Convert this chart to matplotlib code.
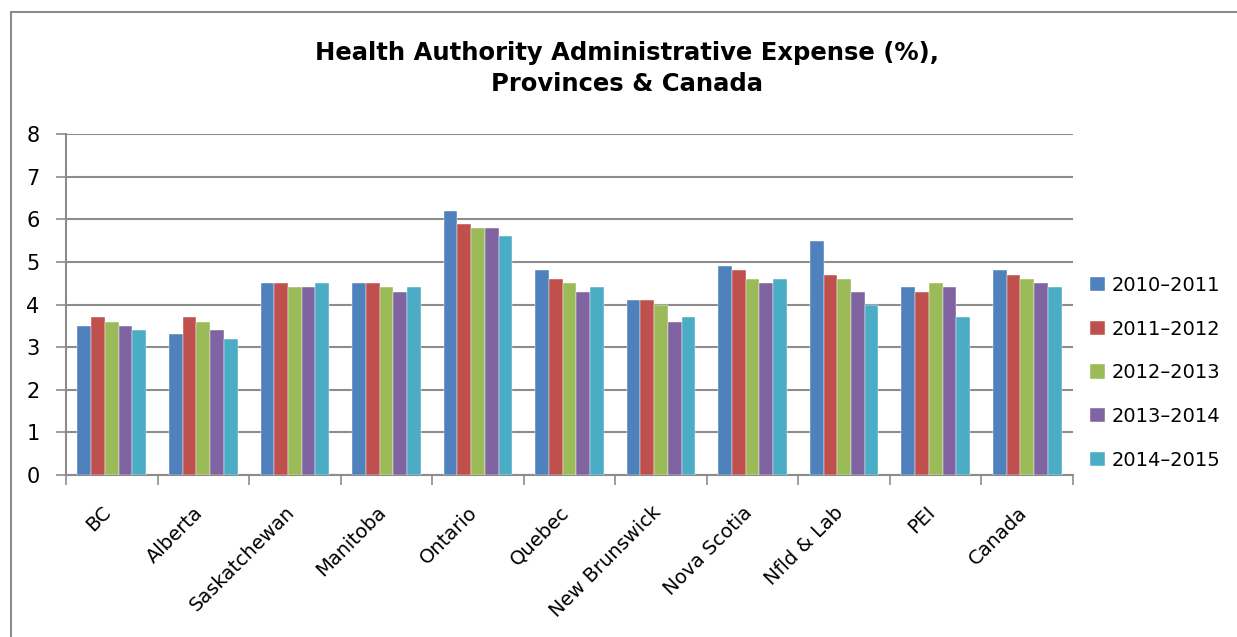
import matplotlib.pyplot as plt
import matplotlib.transforms as mtransforms
import numpy as np
from matplotlib.patches import Rectangle

provinces = ["BC", "Alberta", "Saskatchewan", "Manitoba", "Ontario", "Quebec",
             "New Brunswick", "Nova Scotia", "Nfld & Lab", "PEI", "Canada"]
years = ["2010\u20132011", "2011\u20132012", "2012\u20132013", "2013\u20132014", "2014\u20132015"]
y2010 = [3.5, 3.3, 4.5, 4.5, 6.2, 4.8, 4.1, 4.9, 5.5, 4.4, 4.8]
y2011 = [3.7, 3.7, 4.5, 4.5, 5.9, 4.6, 4.1, 4.8, 4.7, 4.3, 4.7]
y2012 = [3.6, 3.6, 4.4, 4.4, 5.8, 4.5, 4.0, 4.6, 4.6, 4.5, 4.6]
y2013 = [3.5, 3.4, 4.4, 4.3, 5.8, 4.3, 3.6, 4.5, 4.3, 4.4, 4.5]
y2014 = [3.4, 3.2, 4.5, 4.4, 5.6, 4.4, 3.7, 4.6, 4.0, 3.7, 4.4]
series = [y2010, y2011, y2012, y2013, y2014]
colors = ["#4F81BD", "#C0504D", "#9BBB59", "#8064A2", "#4BACC6"]

plt.rcParams['font.family'] = ['DejaVu Sans']
fig = plt.figure(figsize=(12.37, 6.37), dpi=100)
# chart frame (right and bottom edges fall outside the picture)
fig.patches.append(Rectangle((11 / 1237, -0.05), 1.1, 0.981 + 0.05, transform=fig.transFigure,
                             fill=False, edgecolor="#8c8c8c", linewidth=1.5))
ax = fig.add_axes([0.0534, 0.2543, 0.814, 0.5353])

x = np.arange(len(provinces))
w = 0.15
for i, (vals, c, lab) in enumerate(zip(series, colors, years)):
    ax.bar(x + (i - 2) * w, vals, width=w, color=c, label=lab, zorder=3,
           edgecolor="white", linewidth=0.3)

ax.set_xlim(-0.5, len(provinces) - 0.5)
ax.set_ylim(0, 8)
ax.set_yticks(range(0, 9))
ax.yaxis.grid(True, color="#8c8c8c", linewidth=1.5, zorder=0)
ax.tick_params(axis='y', length=7, width=1.2, color="#8c8c8c", labelsize=15, pad=12)
ax.set_xticks(x)
ax.set_xticklabels(provinces, rotation=45, ha='right', rotation_mode='anchor', fontsize=14)
ax.tick_params(axis='x', length=0, pad=20)
offset = mtransforms.ScaledTranslation(-10 / 100, 0, fig.dpi_scale_trans)
for lbl in ax.get_xticklabels():
    lbl.set_transform(lbl.get_transform() + offset)
ax.set_xticks(np.arange(-0.5, len(provinces)), minor=True)
ax.tick_params(axis='x', which='minor', length=7, width=1.2, color="#8c8c8c")
for s in ['top', 'right']:
    ax.spines[s].set_visible(False)
for s in ['left', 'bottom']:
    ax.spines[s].set_color("#8c8c8c")
    ax.spines[s].set_linewidth(1.5)

fig.text(0.507, 0.892, "Health Authority Administrative Expense (%),\nProvinces & Canada",
         ha='center', va='center', fontsize=17.5, fontweight='bold', linespacing=1.35)

ax.legend(loc='center left', bbox_to_anchor=(1.0, 0.30), frameon=False,
          fontsize=14, handlelength=0.75, handleheight=0.75, labelspacing=1.27,
          handletextpad=0.35)

fig.savefig("out.png", dpi=100)
